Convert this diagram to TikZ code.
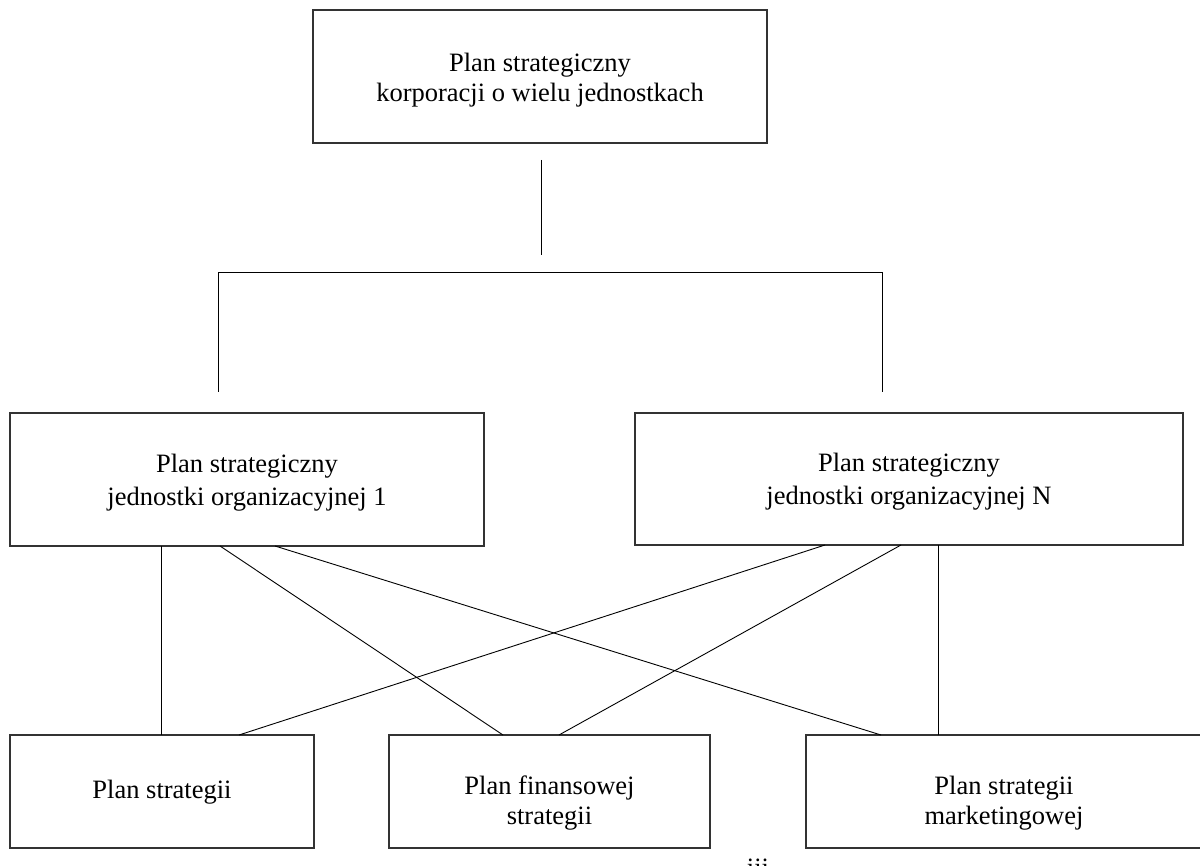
\documentclass[tikz,border=0pt]{standalone}
\usepackage{fontspec}
\setmainfont{Liberation Serif}
\usetikzlibrary{calc}
\begin{document}
\begin{tikzpicture}[x=1pt,y=-1pt,
  box/.style={draw=black!80, line width=1.4pt, rectangle, inner sep=0pt, outer sep=0pt},
  txt/.style={align=center, inner sep=0pt, font=\fontsize{26.5}{30}\selectfont},
  txtmid/.style={align=center, inner sep=0pt, font=\fontsize{26.5}{33}\selectfont},
  conn/.style={draw=black, line width=0.9pt}]
\useasboundingbox (0,0) rectangle (1200,866);
\fill[white] (0,0) rectangle (1200,866);
% nodes
\node[box, minimum width=454pt, minimum height=133pt,
  label={[txt, name=Tl, yshift=-4pt]center:{Plan strategiczny\\korporacji o wielu jednostkach}}] (T) at (540,76.5) {};
\node[box, minimum width=474pt, minimum height=133pt,
  label={[txtmid, name=U1l, yshift=-3pt]center:{Plan strategiczny\\jednostki organizacyjnej 1}}] (U1) at (247,479.5) {};
\node[box, minimum width=548pt, minimum height=132pt,
  label={[txtmid, name=UNl, yshift=-3pt]center:{Plan strategiczny\\jednostki organizacyjnej N}}] (UN) at (909,479) {};
\node[box, minimum width=304pt, minimum height=113pt,
  label={[txt, name=Al, yshift=-1pt]center:{Plan strategii}}] (A) at (162,791.5) {};
\node[box, minimum width=321pt, minimum height=113pt,
  label={[txt, name=Bl, yshift=-12pt]center:{Plan finansowej\\strategii}}] (B) at (549.5,791.5) {};
\node[box, minimum width=396pt, minimum height=113pt,
  label={[txt, name=Cl, yshift=-12pt]center:{Plan strategii\\marketingowej}}] (C) at (1004,791.5) {};
\node[font=\fontsize{26.5}{30}\selectfont, anchor=base] (dots) at (758,876) {iii};
% top tree
\coordinate (v1) at (541,160);
\coordinate (v2) at (541,255);
\coordinate (hl) at (218,272);
\coordinate (hr) at (882,272);
\coordinate (dl) at (218,392);
\coordinate (dr) at (882,392);
\draw[conn] (v1) -- (v2);
\draw[conn] (dl) -- (hl) -- (hr) -- (dr);
% lower connectors
\draw[conn] ($(U1.south west)+(151,0)$) -- ($(A.north west)+(151,0)$);
\draw[conn] ($(U1.south west)+(210,0)$) -- ($(B.north west)+(114,0)$);
\draw[conn] ($(U1.south west)+(265,0)$) -- ($(C.north west)+(75,0)$);
\draw[conn] ($(UN.south west)+(190,0)$) -- ($(A.north west)+(229,0)$);
\draw[conn] ($(UN.south west)+(266,0)$) -- ($(B.north west)+(170,0)$);
\draw[conn] ($(UN.south west)+(303,0)$) -- ($(C.north west)+(132,0)$);
\end{tikzpicture}
\end{document}
